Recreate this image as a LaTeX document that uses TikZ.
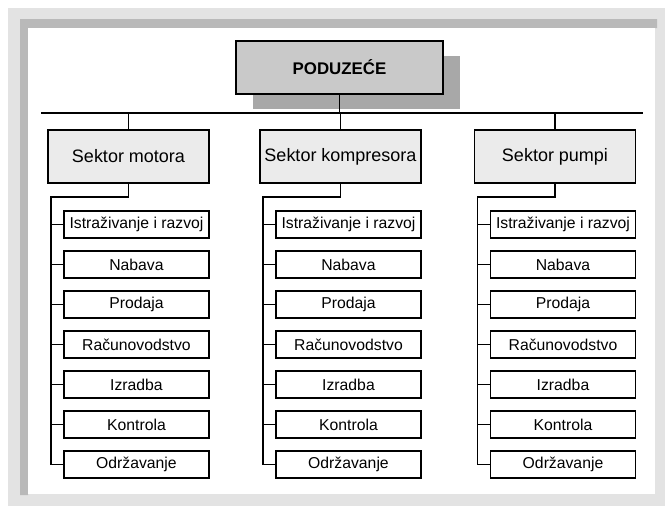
\documentclass[tikz,border=0pt]{standalone}
\usepackage{fontspec}
\setmainfont{Liberation Sans}
\usetikzlibrary{shadows}

\tikzset{
  topbox/.style={draw=black, line width=1.5pt, fill=gray!42, minimum width=51.75mm, minimum height=13.25mm, inner sep=0pt,
    font=\fontsize{12}{14}\selectfont\bfseries,
    drop shadow={shadow xshift=4.25mm, shadow yshift=-3.75mm, fill=gray!68, opacity=1}},
  sectorbox/.style={draw=black, line width=1.3pt, fill=gray!16, minimum width=40.25mm, minimum height=13.25mm, inner sep=0pt,
    font=\fontsize{12.8}{15}\selectfont},
  unitbox/.style={draw=black, line width=1.3pt, fill=white, minimum width=36.25mm, minimum height=6.75mm, inner sep=0pt,
    font=\fontsize{11.2}{13}\selectfont},
  link/.style={line width=1pt},
  bus/.style={line width=1.5pt},
}

\begin{document}
\begin{tikzpicture}[x=0.25mm,y=-0.25mm]
  \useasboundingbox (0,0) rectangle (665,506);
  \fill[white] (0,0) rectangle (665,506);
  \fill[gray!22] (8,8) rectangle (665,506);
  \fill[gray!55] (20,19) -- (657,19) -- (657,28) -- (28,28) -- (28,495) -- (20,495) -- cycle;
  \fill[white] (28,28) rectangle (655,494);

  \node[topbox] (pod) at (339.5,67.5) {PODUZEĆE};

  \coordinate (busL) at (41,113);
  \coordinate (busR) at (643,113);
  \draw[bus] (busL) -- (busR);
  \draw[link] (pod.south) -- (pod.south |- busL);

  \foreach \c/\x/\t in {a/128.5/Sektor motora, b/340.5/Sektor kompresora, c/555/Sektor pumpi}{
    \node[sectorbox] (\c) at (\x,156.5) {\t};
    \draw[link] (\c.north) -- (\c.north |- busL);
    \coordinate (\c spine) at (\x-77.5,197);
    \foreach \i/\u in {1/Istraživanje i razvoj, 2/Nabava, 3/Prodaja, 4/Računovodstvo, 5/Izradba, 6/Kontrola, 7/Održavanje}{
      \node[unitbox] (\c\i) at (\x+8,184.5+40*\i) {\u};
      \draw[link] (\c\i.west) -- (\c\i.west -| \c spine);
    }
    \draw[link] (\c.south) |- (\c spine) -- (\c spine |- \c7.west);
  }
\end{tikzpicture}
\end{document}
